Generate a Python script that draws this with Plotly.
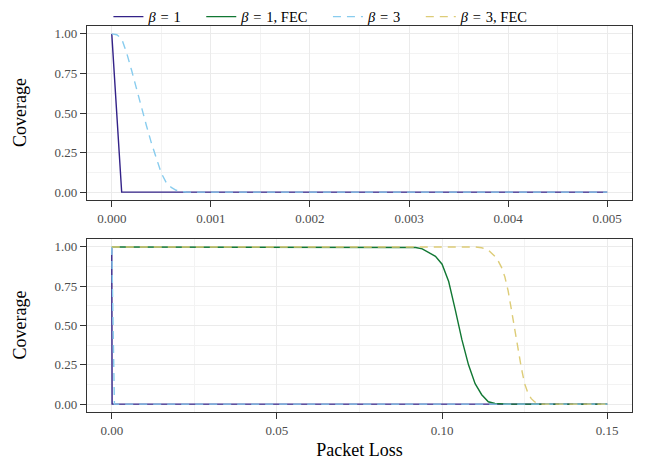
import plotly.graph_objects as go

# ---------------- data ----------------
# Top panel (packet loss 0 .. 0.005)
top_b1_x = [0.0, 0.0001, 0.005]
top_b1_y = [1.0, 0.0, 0.0]

top_b3_x = [0.0, 0.00005, 0.0001, 0.00015, 0.0002, 0.00025, 0.0003, 0.00035, 0.0004,
            0.00045, 0.0005, 0.00055, 0.0006, 0.00065, 0.0007, 0.00075, 0.0008, 0.005]
top_b3_y = [1.0, 0.995, 0.97, 0.88, 0.77, 0.65, 0.54, 0.42, 0.31,
            0.21, 0.12, 0.06, 0.03, 0.012, 0.004, 0.001, 0.0, 0.0]

# Bottom panel (packet loss 0 .. 0.15)
bot_b1_x = [0.0, 0.0001, 0.15]
bot_b1_y = [1.0, 0.0, 0.0]

bot_b1fec_x = [0.0, 0.088, 0.090, 0.092, 0.094, 0.096, 0.098, 0.100, 0.102, 0.104,
               0.106, 0.108, 0.110, 0.112, 0.114, 0.116, 0.118, 0.120, 0.15]
bot_b1fec_y = [1.0, 1.0, 0.999, 0.996, 0.988, 0.965, 0.94, 0.89, 0.78, 0.60,
               0.41, 0.25, 0.13, 0.06, 0.015, 0.004, 0.001, 0.0, 0.0]

bot_b3_x = [0.0, 0.0008, 0.15]
bot_b3_y = [1.0, 0.0, 0.0]

bot_b3fec_x = [0.0, 0.110, 0.112, 0.114, 0.115, 0.116, 0.117, 0.118, 0.119, 0.120,
               0.121, 0.122, 0.123, 0.124, 0.125, 0.126, 0.127, 0.128, 0.129, 0.130, 0.15]
bot_b3fec_y = [1.0, 1.0, 0.995, 0.98, 0.96, 0.94, 0.91, 0.87, 0.81, 0.72,
               0.60, 0.47, 0.34, 0.23, 0.13, 0.07, 0.035, 0.015, 0.005, 0.0, 0.0]

SP = "\u2004"
series_names = ["<i>β</i>" + SP + "=" + SP + "1",
                "<i>β</i>" + SP + "=" + SP + "1, FEC",
                "<i>β</i>" + SP + "=" + SP + "3",
                "<i>β</i>" + SP + "=" + SP + "3, FEC"]
colors = ["#332288", "#117733", "#88CCEE", "#DDCC77"]
dashes = ["solid", "solid", "8px,6px", "8px,6px"]

y_ticks = [0, 0.25, 0.5, 0.75, 1.0]
y_ticktext = ["0.00", "0.25", "0.50", "0.75", "1.00"]
top_x_ticks = [0, 0.001, 0.002, 0.003, 0.004, 0.005]
top_x_ticktext = ["0.000", "0.001", "0.002", "0.003", "0.004", "0.005"]
bot_x_ticks = [0, 0.05, 0.10, 0.15]
bot_x_ticktext = ["0.00", "0.05", "0.10", "0.15"]
y_title = "Coverage"
x_title = "Packet Loss"

FONT = "Liberation Serif"
LW = 1.4

fig = go.Figure()

def add(x, y, i, xa, ya, show):
    fig.add_trace(go.Scatter(
        x=x, y=y, mode="lines", name=series_names[i] + "\u00a0\u00a0\u00a0\u00a0", legendgroup=str(i),
        showlegend=show, xaxis=xa, yaxis=ya,
        line=dict(color=colors[i], width=LW, dash=dashes[i]),
    ))

add(top_b1_x, top_b1_y, 0, "x", "y", True)
add(bot_b1_x, bot_b1_y, 0, "x2", "y2", False)
add(bot_b1fec_x, bot_b1fec_y, 1, "x2", "y2", True)
add(top_b3_x, top_b3_y, 2, "x", "y", True)
add(bot_b3_x, bot_b3_y, 2, "x2", "y2", False)
add(bot_b3fec_x, bot_b3fec_y, 3, "x2", "y2", True)

grid_major = "#EBEBEB"
grid_minor = "#F3F3F3"
border = "#333333"
tickfont = dict(family=FONT, size=13, color="#4D4D4D")
titlefont = dict(family=FONT, size=18, color="black")

common_axis = dict(
    showline=True, linecolor=border, linewidth=1.2, mirror=True,
    ticks="outside", ticklen=6, tickcolor=border, tickwidth=1,
    showgrid=True, gridcolor=grid_major, gridwidth=1,
    zeroline=False, tickfont=tickfont, automargin=False,
)

fig.update_layout(
    width=646, height=467,
    paper_bgcolor="white", plot_bgcolor="white",
    margin=dict(l=79, r=22, t=18, b=63, autoexpand=False),
    font=dict(family=FONT, color="black"),
    showlegend=True,
    legend=dict(
        orientation="h", xref="container", x=0.496, xanchor="center",
        yref="paper", y=1.024, yanchor="middle",
        font=dict(family=FONT, size=14.5, color="black"),
        bgcolor="rgba(0,0,0,0)", itemwidth=30,
    ),
    xaxis=dict(
        common_axis, domain=[0, 1], anchor="y",
        range=[-0.00025, 0.00525],
        tickvals=top_x_ticks, ticktext=top_x_ticktext,
        minor=dict(showgrid=True, gridcolor=grid_minor, gridwidth=0.6, dtick=0.0005, tick0=0),
    ),
    yaxis=dict(
        common_axis, domain=[0.549, 1], anchor="x",
        range=[-0.05, 1.05],
        tickvals=y_ticks, ticktext=y_ticktext,
        minor=dict(showgrid=True, gridcolor=grid_minor, gridwidth=0.6, dtick=0.125, tick0=0),
    ),
    xaxis2=dict(
        common_axis, domain=[0, 1], anchor="y2",
        range=[-0.0075, 0.1575],
        tickvals=bot_x_ticks, ticktext=bot_x_ticktext,
        minor=dict(showgrid=True, gridcolor=grid_minor, gridwidth=0.6, dtick=0.025, tick0=0),
        title=dict(text=x_title, font=titlefont, standoff=6),
    ),
    yaxis2=dict(
        common_axis, domain=[0, 0.448], anchor="x2",
        range=[-0.05, 1.05],
        tickvals=y_ticks, ticktext=y_ticktext,
        minor=dict(showgrid=True, gridcolor=grid_minor, gridwidth=0.6, dtick=0.125, tick0=0),
    ),
    annotations=[
        dict(text=y_title, xref="paper", yref="paper", x=-0.1229, y=0.7746,
             xanchor="center", yanchor="middle", textangle=-90, showarrow=False, font=titlefont),
        dict(text=y_title, xref="paper", yref="paper", x=-0.1229, y=0.224,
             xanchor="center", yanchor="middle", textangle=-90, showarrow=False, font=titlefont),
    ],
)

fig.write_html("out.html")
